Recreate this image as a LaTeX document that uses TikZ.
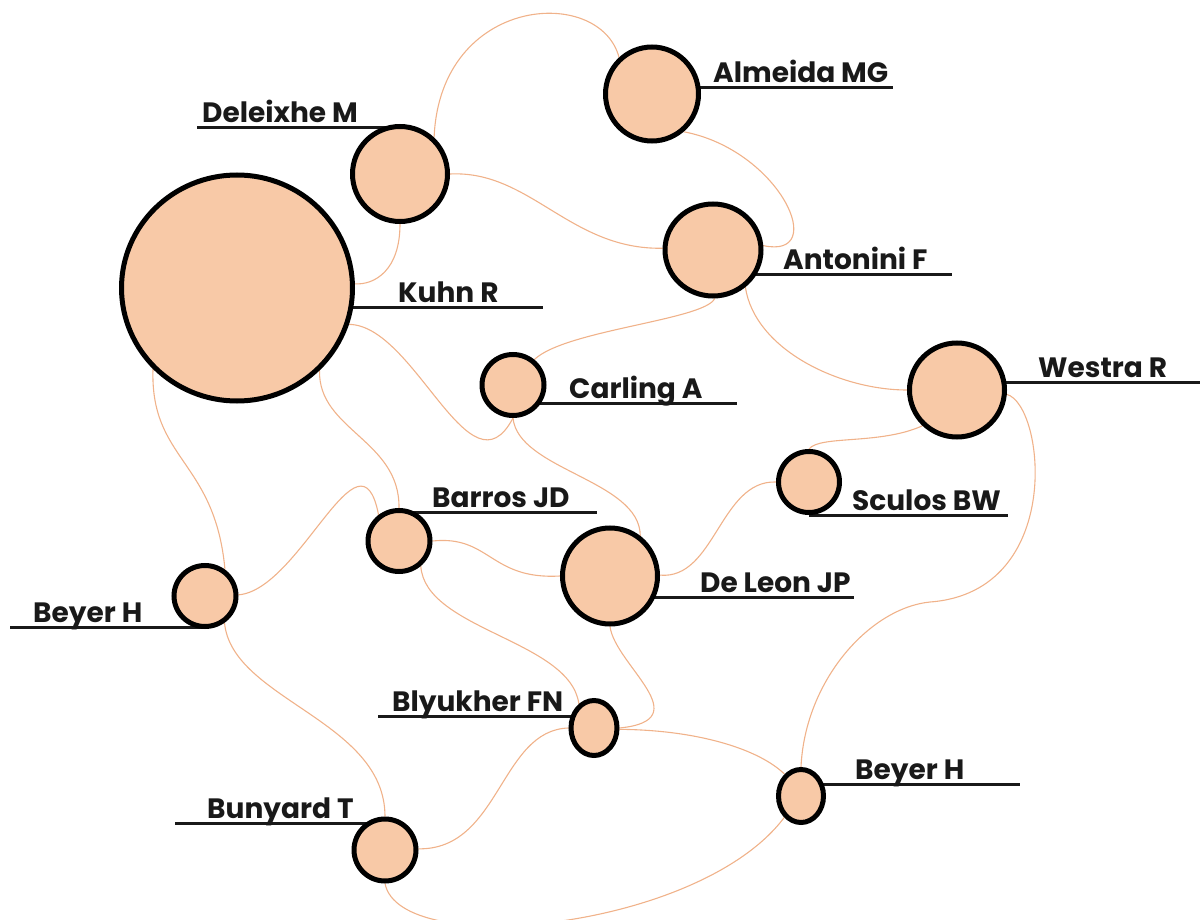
\documentclass[tikz,border=0pt]{standalone}
\usepackage{fontspec}
\setmainfont{Poppins}
\usetikzlibrary{shapes.geometric,backgrounds}

\definecolor{peach}{RGB}{248,201,167}
\definecolor{linkcol}{RGB}{240,178,138}
\definecolor{inkcol}{RGB}{25,25,25}

\tikzset{
    member/.style={ellipse, draw=black, fill=peach, line width=5pt, inner sep=0pt},
    link/.style={draw=linkcol, line width=1.1pt},
    uline/.style={draw=inkcol, line width=3pt},
    lbl/.style={anchor=base west, inner sep=0pt, text=inkcol, font=\bfseries\fontsize{28}{32}\selectfont}
}

\begin{document}
\begin{tikzpicture}[x=1pt, y=-1pt]
    \useasboundingbox (0, 0) rectangle (1200, 920);

    % authors (centre, size)
    \node[member, minimum width=231, minimum height=226] (kuhn) at (237, 288) {};
    \node[member, minimum width=95, minimum height=95] (deleixhe) at (400, 174) {};
    \node[member, minimum width=93, minimum height=94] (almeida) at (652, 94) {};
    \node[member, minimum width=96, minimum height=92] (antonini) at (713, 250) {};
    \node[member, minimum width=62, minimum height=61] (carling) at (513, 385) {};
    \node[member, minimum width=95, minimum height=94] (westra) at (957, 390) {};
    \node[member, minimum width=61, minimum height=61] (sculos) at (809, 482) {};
    \node[member, minimum width=62, minimum height=61] (barros) at (399, 541) {};
    \node[member, minimum width=95, minimum height=96] (deleon) at (610, 576) {};
    \node[member, minimum width=62, minimum height=61] (beyerL) at (205, 596) {};
    \node[member, minimum width=46, minimum height=55] (blyukher) at (594, 728) {};
    \node[member, minimum width=45, minimum height=53] (beyerR) at (801, 796) {};
    \node[member, minimum width=62, minimum height=62] (bunyard) at (385, 850) {};

    % ends of the underlines
    \coordinate (almeidaU) at (893, 88);
    \coordinate (deleixheU) at (197, 128);
    \coordinate (kuhnU) at (543, 307);
    \coordinate (antoniniU) at (952, 275);
    \coordinate (carlingU) at (737, 403);
    \coordinate (westraU) at (1200, 382);
    \coordinate (sculosU) at (1008, 515);
    \coordinate (barrosU) at (597, 512);
    \coordinate (deleonU) at (854, 597);
    \coordinate (beyerLU) at (10, 627);
    \coordinate (blyukherU) at (378, 716);
    \coordinate (beyerRU) at (1020, 784);
    \coordinate (bunyardU) at (175, 823);
    \coordinate (westraBend) at (930, 602); % where the long link turns

    \begin{scope}[on background layer]
        \draw[uline] (almeida.center |- almeidaU) -- (almeidaU);
        \draw[uline] (deleixhe.center |- deleixheU) -- (deleixheU);
        \draw[uline] (kuhn.center |- kuhnU) -- (kuhnU);
        \draw[uline] (antonini.center |- antoniniU) -- (antoniniU);
        \draw[uline] (carling.center |- carlingU) -- (carlingU);
        \draw[uline] (westra.center |- westraU) -- (westraU);
        \draw[uline] (sculos.center |- sculosU) -- (sculosU);
        \draw[uline] (barros.center |- barrosU) -- (barrosU);
        \draw[uline] (deleon.center |- deleonU) -- (deleonU);
        \draw[uline] (beyerL.center |- beyerLU) -- (beyerLU);
        \draw[uline] (blyukher.center |- blyukherU) -- (blyukherU);
        \draw[uline] (beyerR.center |- beyerRU) -- (beyerRU);
        \draw[uline] (bunyard.center |- bunyardU) -- (bunyardU);

        % co-authorship links
        \draw[link] (deleixhe.47) .. controls (440, -5) and (600, -15) .. (almeida.132);
        \draw[link] (almeida.-50) .. controls (780, 150) and (830, 260) .. (antonini.5);
        \draw[link] (deleixhe.0) .. controls (530, 170) and (570, 250) .. (antonini.178);
        \draw[link] (deleixhe.-90) .. controls (400, 270) and (375, 285) .. (kuhn.2);
        \draw[link] (kuhn.-18) .. controls (415, 325) and (470, 500) .. (carling.-90);
        \draw[link] (kuhn.-45) .. controls (318, 430) and (400, 440) .. (barros.90);
        \draw[link] (kuhn.224) .. controls (150, 460) and (215, 460) .. (beyerL.53);
        \draw[link] (beyerL.-54) .. controls (232, 700) and (385, 720) .. (bunyard.90);
        \draw[link] (beyerL.2) .. controls (300, 590) and (360, 420) .. (barros.128);
        \draw[link] (carling.50) .. controls (565, 330) and (705, 320) .. (antonini.-88);
        \draw[link] (carling.-90) .. controls (518, 470) and (640, 480) .. (deleon.53);
        \draw[link] (antonini.-49) .. controls (755, 350) and (840, 390) .. (westra.180);
        \draw[link] (westra.226) .. controls (880, 445) and (820, 435) .. (sculos.90);
        \draw[link] (sculos.180) .. controls (720, 480) and (715, 580) .. (deleon.1);
        \draw[link] (westra.-5) .. controls (1045, 405) and (1065, 592) .. (westraBend)
            .. controls (870, 608) and (805, 680) .. (beyerR.90);
        \draw[link] (barros.0) .. controls (490, 535) and (490, 580) .. (deleon.180);
        \draw[link] (barros.-49) .. controls (425, 630) and (570, 640) .. (blyukher.122);
        \draw[link] (deleon.-90) .. controls (615, 665) and (700, 720) .. (blyukher.0);
        \draw[link] (blyukher.-3) .. controls (700, 730) and (760, 750) .. (beyerR.127);
        \draw[link] (blyukher.180) .. controls (500, 730) and (500, 850) .. (bunyard.2);
        \draw[link] (bunyard.-90) .. controls (400, 960) and (700, 930) .. (beyerR.232);
    \end{scope}

    % names
    \node[lbl] (almeidaL) at (713, 83) {Almeida MG};
    \node[lbl] (deleixheL) at (202, 123) {Deleixhe M};
    \node[lbl] (kuhnL) at (398, 302) {Kuhn R};
    \node[lbl] (antoniniL) at (783, 270) {Antonini F};
    \node[lbl] (carlingL) at (569, 398) {Carling A};
    \node[lbl] (westraL) at (1038, 377) {Westra R};
    \node[lbl] (sculosL) at (852, 510) {Sculos BW};
    \node[lbl] (barrosL) at (432, 507) {Barros JD};
    \node[lbl] (deleonL) at (700, 592) {De Leon JP};
    \node[lbl] (beyerLL) at (33, 622) {Beyer H};
    \node[lbl] (blyukherL) at (392, 711) {Blyukher FN};
    \node[lbl] (beyerRL) at (855, 779) {Beyer H};
    \node[lbl] (bunyardL) at (207, 818) {Bunyard T};
\end{tikzpicture}
\end{document}
